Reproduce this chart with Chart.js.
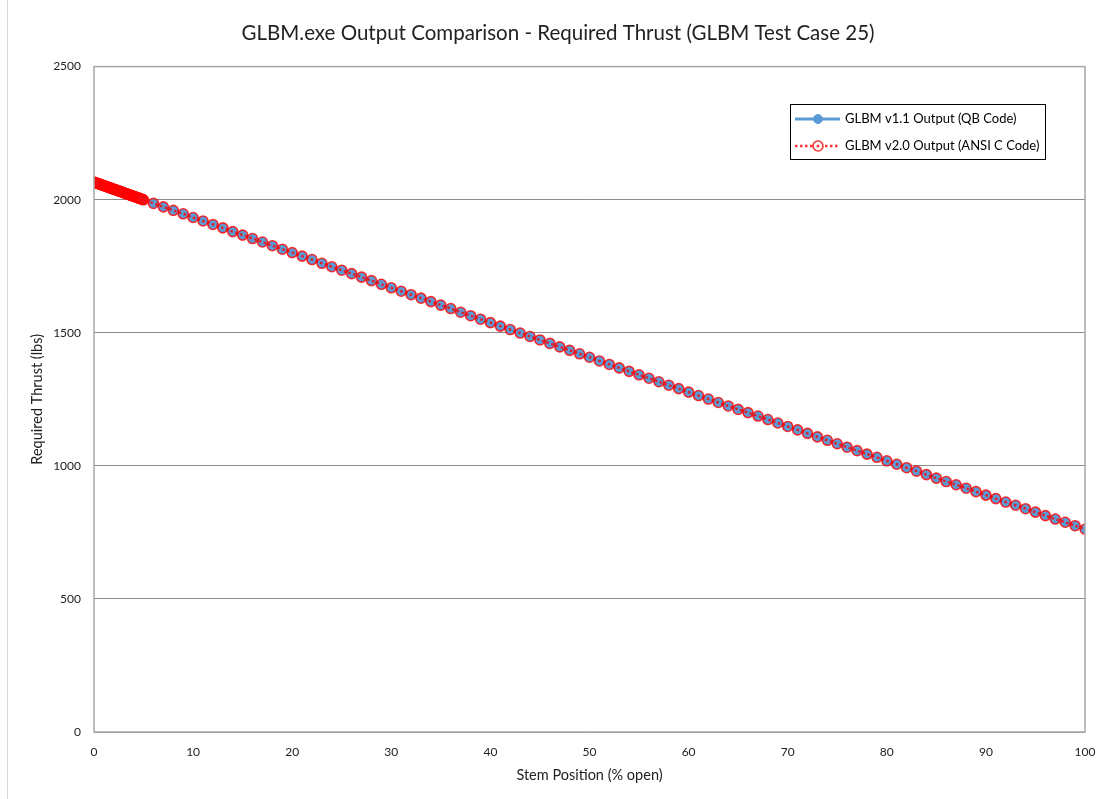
<!DOCTYPE html>
<html>
<head>
<meta charset="utf-8">
<title>GLBM.exe Output Comparison</title>
<script src="https://cdn.jsdelivr.net/npm/chart.js@4/dist/chart.umd.min.js"></script>
<style>
  html, body { margin: 0; padding: 0; background: #fff; }
  canvas { display: block; }
</style>
</head>
<body>
<canvas id="chart" width="1099" height="799"></canvas>
<script>
// stem position (% open) and required thrust (lbs)
const v1Stem = [0,1,2,3,4,5,6,7,8,9,10,11,12,13,14,15,16,17,18,19,20,21,22,23,24,25,26,27,28,29,30,31,32,33,34,35,36,37,38,39,40,41,42,43,44,45,46,47,48,49,50,51,52,53,54,55,56,57,58,59,60,61,62,63,64,65,66,67,68,69,70,71,72,73,74,75,76,77,78,79,80,81,82,83,84,85,86,87,88,89,90,91,92,93,94,95,96,97,98,99,100];
const v1Thrust = [2066,2053,2039,2026,2013,2000,1986,1973,1960,1947,1933,1920,1907,1894,1880,1867,1854,1841,1827,1814,1801,1788,1775,1761,1748,1735,1722,1709,1696,1682,1669,1656,1643,1630,1617,1604,1591,1577,1564,1551,1538,1525,1512,1499,1486,1473,1460,1447,1434,1421,1408,1394,1381,1368,1355,1342,1329,1316,1303,1290,1277,1264,1251,1238,1225,1212,1200,1187,1174,1161,1148,1135,1122,1109,1096,1083,1070,1057,1044,1032,1019,1006,993,980,967,954,941,929,916,903,890,877,864,852,839,826,813,800,788,775,762];

const v2Stem = [0,0.1,0.2,0.3,0.4,0.5,0.6,0.7,0.8,0.9,1,1.1,1.2,1.3,1.4,1.5,1.6,1.7,1.8,1.9,2,2.1,2.2,2.3,2.4,2.5,2.6,2.7,2.8,2.9,3,3.1,3.2,3.3,3.4,3.5,3.6,3.7,3.8,3.9,4,4.1,4.2,4.3,4.4,4.5,4.6,4.7,4.8,4.9,5,6,7,8,9,10,11,12,13,14,15,16,17,18,19,20,21,22,23,24,25,26,27,28,29,30,31,32,33,34,35,36,37,38,39,40,41,42,43,44,45,46,47,48,49,50,51,52,53,54,55,56,57,58,59,60,61,62,63,64,65,66,67,68,69,70,71,72,73,74,75,76,77,78,79,80,81,82,83,84,85,86,87,88,89,90,91,92,93,94,95,96,97,98,99,100];
const v2Thrust = [2066,2064.7,2063.3,2062,2060.7,2059.4,2058,2056.7,2055.4,2054,2052.7,2051.4,2050,2048.7,2047.4,2046.1,2044.7,2043.4,2042.1,2040.7,2039.4,2038.1,2036.7,2035.4,2034.1,2032.8,2031.4,2030.1,2028.8,2027.4,2026.1,2024.8,2023.4,2022.1,2020.8,2019.5,2018.1,2016.8,2015.5,2014.1,2012.8,2011.5,2010.1,2008.8,2007.5,2006.2,2004.8,2003.5,2002.2,2000.8,1999.6,1986,1973,1960,1947,1933,1920,1907,1894,1880,1867,1854,1841,1827,1814,1801,1788,1775,1761,1748,1735,1722,1709,1696,1682,1669,1656,1643,1630,1617,1604,1591,1577,1564,1551,1538,1525,1512,1499,1486,1473,1460,1447,1434,1421,1408,1394,1381,1368,1355,1342,1329,1316,1303,1290,1277,1264,1251,1238,1225,1212,1200,1187,1174,1161,1148,1135,1122,1109,1096,1083,1070,1057,1044,1032,1019,1006,993,980,967,954,941,929,916,903,890,877,864,852,839,826,813,800,788,775,762];

const xTicks = [0,10,20,30,40,50,60,70,80,90,100];
const yTicks = [0,500,1000,1500,2000,2500];

const FONT = "Lato, 'Open Sans', 'Liberation Sans', sans-serif";
const BLUE = '#5B9BD5';
const RED = 'rgba(255, 0, 0, 0.8)';

// frame around the plot + the thin outer line on the left
const framePlugin = {
  id: 'frame',
  afterDraw(chart) {
    const ctx = chart.ctx, a = chart.chartArea;
    ctx.save();
    ctx.strokeStyle = '#a6a6a6';
    ctx.lineWidth = 1.5;
    ctx.strokeRect(a.left, a.top, a.right - a.left, a.bottom - a.top);
    ctx.strokeStyle = '#d9d9d9';
    ctx.lineWidth = 1;
    ctx.beginPath();
    ctx.moveTo(7.5, 0);
    ctx.lineTo(7.5, chart.height);
    ctx.stroke();
    ctx.restore();
  }
};

// legend box drawn inside the plot, like the spreadsheet one
const boxLegend = {
  id: 'boxLegend',
  afterDraw(chart) {
    const ctx = chart.ctx;
    const x = 790, y = 104, w = 255, h = 55;
    ctx.save();
    ctx.fillStyle = '#fff';
    ctx.fillRect(x, y, w, h);
    ctx.strokeStyle = '#000';
    ctx.lineWidth = 1;
    ctx.strokeRect(x + 0.5, y + 0.5, w, h);
    ctx.font = '13px ' + FONT;
    ctx.textBaseline = 'middle';
    chart.data.datasets.forEach((ds, i) => {
      const cy = y + 15 + i * 27;
      ctx.beginPath();
      ctx.strokeStyle = ds.borderColor;
      ctx.lineWidth = ds.borderWidth;
      ctx.setLineDash(ds.borderDash || []);
      ctx.moveTo(x + 5, cy);
      ctx.lineTo(x + 50, cy);
      ctx.stroke();
      ctx.setLineDash([]);
      ctx.beginPath();
      ctx.arc(x + 28, cy, ds.pointRadius, 0, Math.PI * 2);
      if (ds.pointBackgroundColor !== 'transparent') {
        ctx.fillStyle = ds.pointBackgroundColor;
        ctx.fill();
      } else {
        ctx.fillStyle = '#fff';
        ctx.fill();
        ctx.beginPath();
        ctx.arc(x + 28, cy, 1.5, 0, Math.PI * 2);
        ctx.fillStyle = ds.pointBorderColor;
        ctx.fill();
        ctx.beginPath();
        ctx.arc(x + 28, cy, ds.pointRadius, 0, Math.PI * 2);
      }
      ctx.strokeStyle = ds.pointBorderColor;
      ctx.lineWidth = ds.pointBorderWidth;
      ctx.stroke();
      ctx.fillStyle = '#000';
      ctx.fillText(ds.label, x + 55, cy);
    });
    ctx.restore();
  }
};

new Chart(document.getElementById('chart'), {
  type: 'line',
  data: {
    datasets: [
      {
        label: 'GLBM v1.1 Output (QB Code)',
        data: v1Stem.map((s, i) => ({ x: s, y: v1Thrust[i] })),
        borderColor: BLUE,
        borderWidth: 3,
        pointRadius: 4.5,
        pointBackgroundColor: BLUE,
        pointBorderColor: BLUE,
        pointBorderWidth: 1,
        order: 2
      },
      {
        label: 'GLBM v2.0 Output (ANSI C Code)',
        data: v2Stem.map((s, i) => ({ x: s, y: v2Thrust[i] })),
        borderColor: RED,
        borderWidth: 2.5,
        borderDash: [2.5, 2.5],
        pointRadius: 5,
        pointBackgroundColor: 'transparent',
        pointBorderColor: RED,
        pointBorderWidth: 1.6,
        order: 1
      }
    ]
  },
  options: {
    responsive: false,
    animation: false,
    layout: { padding: { left: 18, right: 1, top: 0, bottom: 0 } },
    scales: {
      x: {
        type: 'linear',
        min: 0,
        max: 100,
        afterBuildTicks: axis => { axis.ticks = xTicks.map(v => ({ value: v })); },
        afterFit: axis => { axis.height = 67; axis.paddingRight = 14; },
        grid: { display: false, drawTicks: false },
        border: { display: false },
        ticks: { padding: 13, color: '#222', font: { family: FONT, size: 12 }, callback: v => String(v) },
        title: {
          display: true,
          text: 'Stem Position (% open)',
          color: '#222',
          font: { family: FONT, size: 14.5 },
          padding: { top: 0, bottom: 15 }
        }
      },
      y: {
        type: 'linear',
        min: 0,
        max: 2500,
        afterBuildTicks: axis => { axis.ticks = yTicks.map(v => ({ value: v })); },
        afterFit: axis => { axis.width = 76; },
        grid: { color: '#8c8c8c', lineWidth: 1, drawTicks: false },
        border: { display: false },
        ticks: { padding: 13, color: '#222', font: { family: FONT, size: 12 }, callback: v => String(v) },
        title: {
          display: true,
          text: 'Required Thrust (lbs)',
          color: '#222',
          font: { family: FONT, size: 14.5 },
          padding: { top: 11, bottom: 0 }
        }
      }
    },
    plugins: {
      legend: { display: false },
      tooltip: { enabled: false },
      title: {
        display: true,
        text: 'GLBM.exe Output Comparison - Required Thrust (GLBM Test Case 25)',
        color: '#222',
        font: { family: FONT, size: 20.5, weight: 'normal' },
        padding: { top: 21, bottom: 21 }
      }
    }
  },
  plugins: [framePlugin, boxLegend]
});
</script>
</body>
</html>
